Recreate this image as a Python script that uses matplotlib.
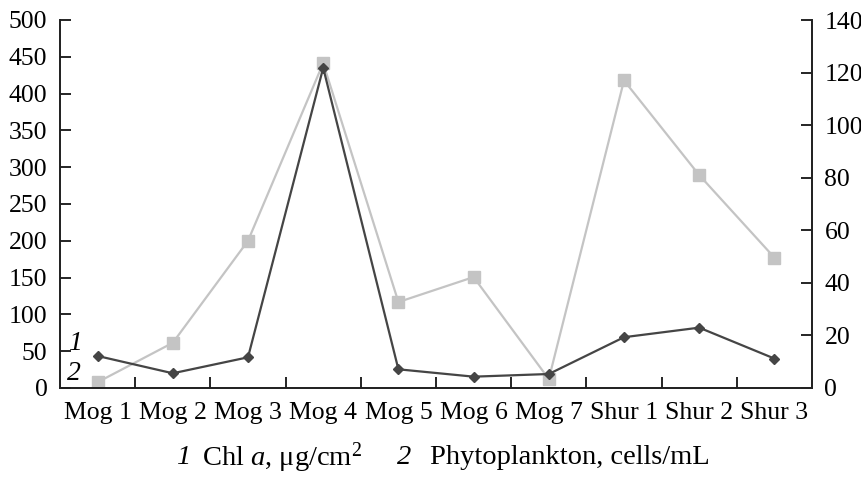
import matplotlib
matplotlib.use("Agg")
import matplotlib.pyplot as plt
import numpy as np

plt.rcParams['font.family'] = ['Liberation Serif', 'DejaVu Serif']
plt.rcParams['mathtext.fontset'] = 'custom'
plt.rcParams['mathtext.rm'] = 'Liberation Serif'
plt.rcParams['mathtext.it'] = 'Liberation Serif:italic'

categories = ["Mog 1", "Mog 2", "Mog 3", "Mog 4", "Mog 5", "Mog 6", "Mog 7",
              "Shur 1", "Shur 2", "Shur 3"]
chl_a = [43.5, 20, 41.7, 435, 25.4, 15.4, 19, 69, 82, 40]
phyto = [2.2, 17.2, 56, 123.6, 32.7, 42.2, 3.4, 117, 81, 49.6]
left_ticks = [0, 50, 100, 150, 200, 250, 300, 350, 400, 450, 500]
right_ticks = [0, 20, 40, 60, 80, 100, 120, 140]

FS = 18.5
LFS = 20.5

fig = plt.figure(figsize=(8.62, 4.79), dpi=100)
ax = fig.add_axes([60/862, 1-388/479, 752/862, 368/479])
ax2 = ax.twinx()

x = np.arange(len(categories))
ax2.plot(x, phyto, color='#c4c4c4', lw=1.6, marker='s', ms=8, mec='#c4c4c4', mfc='#c4c4c4', zorder=2)
ax.plot(x, chl_a, color='#454545', lw=1.6, marker='D', ms=5.5, mec='#454545', mfc='#454545', zorder=3)
ax.set_zorder(ax2.get_zorder() + 1)
ax.patch.set_visible(False)

ax.set_xlim(-0.5, len(categories) - 0.5)
ax.set_ylim(0, 500)
ax2.set_ylim(0, 140)
ax.set_yticks(left_ticks)
ax2.set_yticks(right_ticks)
ax.set_xticks(x)
ax.set_xticklabels(categories)
ax.set_xticks(np.arange(0.5, len(categories) - 1), minor=True)
ax.tick_params(axis='x', which='major', length=0, pad=10, labelsize=FS)
ax.tick_params(axis='x', which='minor', direction='in', length=8, width=1.2)
ax.tick_params(axis='y', direction='in', length=8, width=1.2, pad=9, labelsize=FS)
ax2.tick_params(axis='y', direction='in', length=8, width=1.2, pad=9, labelsize=FS)

for a in (ax, ax2):
    a.spines['top'].set_visible(False)
    for s in ('left', 'right', 'bottom'):
        a.spines[s].set_linewidth(1.3)
        a.spines[s].set_color('#222222')

ax.text(0.02, 0.12, '1', transform=ax.transAxes, fontsize=20, style='italic', ha='center', va='center')
ax.text(0.018, 0.04, '2', transform=ax.transAxes, fontsize=20, style='italic', ha='center', va='center')

ly = 1 - 458/479
fig.text(184/862, ly, '1', ha='center', va='center', fontsize=LFS, style='italic')
fig.text(202/862, ly, r"Chl $\mathit{a}$, μg/cm$^2$", ha='left', va='center', fontsize=LFS)
fig.text(404/862, ly, '2', ha='center', va='center', fontsize=LFS, style='italic')
fig.text(430/862, ly, "Phytoplankton, cells/mL", ha='left', va='center', fontsize=LFS)

fig.savefig("out.png", dpi=100)
